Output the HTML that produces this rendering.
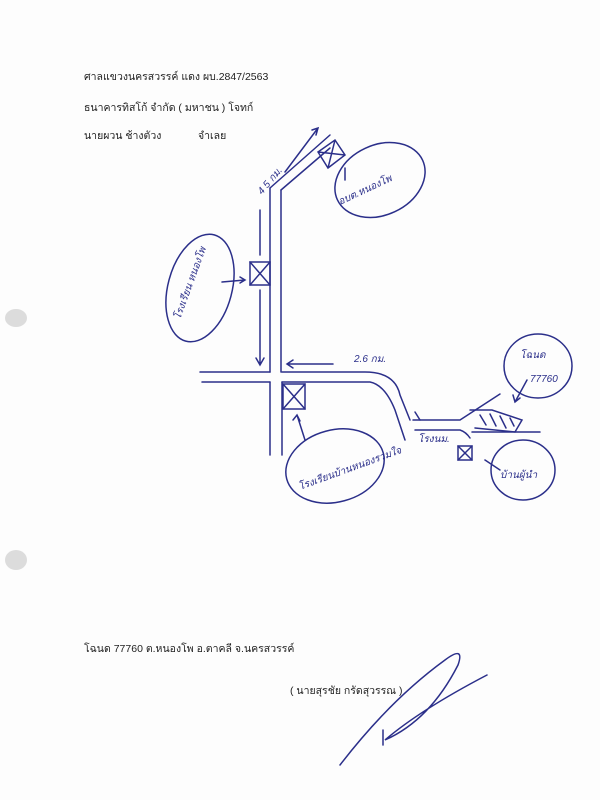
<!DOCTYPE html>
<html><head><meta charset="utf-8"><style>
body{margin:0;background:#fff;}
svg{display:block}
.t{font-family:"Liberation Sans","Noto Sans CJK SC",sans-serif;font-size:10.5px;fill:#222}
.h{font-family:"Liberation Sans","Noto Sans CJK SC",sans-serif;font-size:10px;fill:#2b2f8a;font-style:italic}
</style></head><body>
<svg width="600" height="800" viewBox="0 0 600 800" xmlns="http://www.w3.org/2000/svg">
<rect width="600" height="800" fill="#fdfdfd"/>
<ellipse cx="16" cy="318" rx="11" ry="9" fill="#dcdcdc"/>
<ellipse cx="16" cy="560" rx="11" ry="10" fill="#dcdcdc"/>
<text class="t" x="84" y="80">ศาลแขวงนครสวรรค์ แดง ผบ.2847/2563</text>
<text class="t" x="84" y="111">ธนาคารทิสโก้ จำกัด ( มหาชน ) โจทก์</text>
<text class="t" x="84" y="139">นายผวน ช้างตัวง</text>
<text class="t" x="198" y="139">จำเลย</text>
<g stroke="#2b2f8a" stroke-width="1.5" fill="none" stroke-linecap="round">
<path d="M270 188 L270 372 M281 190 L281 372"/>
<path d="M270 188 L330 135 M281 190 L330 148"/>
<path d="M285 172 L318 128 M312 130 L318 128 L316 135"/>
<path d="M200 372 L270 372 M282 372 L365 372 Q395 372 400 395 L410 420"/>
<path d="M202 382 L270 382 M282 382 L370 382 Q385 385 395 410 L405 440"/>
<path d="M270 382 L270 455 M282 382 L282 455"/>
<path d="M260 210 L260 255 M260 290 L260 365 M256 358 L260 365 L264 358"/>
<path d="M333 364 L287 364 M293 360 L287 364 L293 368"/>
<rect x="250" y="262" width="20" height="23"/><path d="M250 262 L270 285 M270 262 L250 285"/>
<rect x="283" y="384" width="22" height="25"/><path d="M283 384 L305 409 M305 384 L283 409"/>
<path d="M318 152 L335 140 L345 155 L328 168 Z M318 152 L345 155 M335 140 L328 168"/>
<ellipse cx="200" cy="288" rx="32" ry="55" transform="rotate(15 200 288)"/>
<path d="M222 282 L245 280 M240 277 L245 280 L240 283"/>
<ellipse cx="380" cy="180" rx="47" ry="35" transform="rotate(-25 380 180)"/>
<path d="M345 180 L345 168"/>
<ellipse cx="335" cy="466" rx="50" ry="36" transform="rotate(-15 335 466)"/>
<path d="M305 440 L297 415 M293 420 L297 415 L300 421"/>
<ellipse cx="538" cy="366" rx="34" ry="32"/>
<path d="M527 380 L515 402 M513 395 L515 402 L520 398"/>
<ellipse cx="523" cy="470" rx="32" ry="30"/>
<path d="M500 470 L485 460"/>
<path d="M413 420 L460 420 L500 394"/>
<path d="M415 430 L460 430 Q466 432 470 438 M472 432 L540 432"/>
<path d="M470 410 L492 410 L522 420 L515 432 L475 428"/>
<path d="M480 415 L486 425 M490 414 L496 426 M500 416 L506 428 M510 418 L514 426"/>
<path d="M415 412 L420 420"/>
<rect x="458" y="446" width="14" height="14"/><path d="M458 446 L472 460 M472 446 L458 460"/>
<path d="M340 765 Q390 700 445 660 Q465 645 458 665 Q430 720 385 740 Q420 710 487 675"/>
<path d="M383 730 L383 745"/>
</g>
<text class="h" x="262" y="195" transform="rotate(-50 262 195)">4 5 กม.</text>
<text class="h" x="340" y="205" transform="rotate(-25 340 205)">อบต.หนองโพ</text>
<text class="h" x="180" y="320" transform="rotate(-70 180 320)">โรงเรียน หนองโพ</text>
<text class="h" x="354" y="362">2.6 กม.</text>
<text class="h" x="300" y="490" transform="rotate(-20 300 490)">โรงเรียนบ้านหนองรวมใจ</text>
<text class="h" x="520" y="358">โฉนด</text>
<text class="h" x="530" y="382">77760</text>
<text class="h" x="418" y="442">โรงนม.</text>
<text class="h" x="500" y="478">บ้านผู้นำ</text>
<text class="t" x="84" y="652">โฉนด 77760 ต.หนองโพ อ.ตาคลี จ.นครสวรรค์</text>
<text class="t" x="290" y="694">( นายสุรชัย กรัดสุวรรณ )</text>
</svg>
</body></html>
